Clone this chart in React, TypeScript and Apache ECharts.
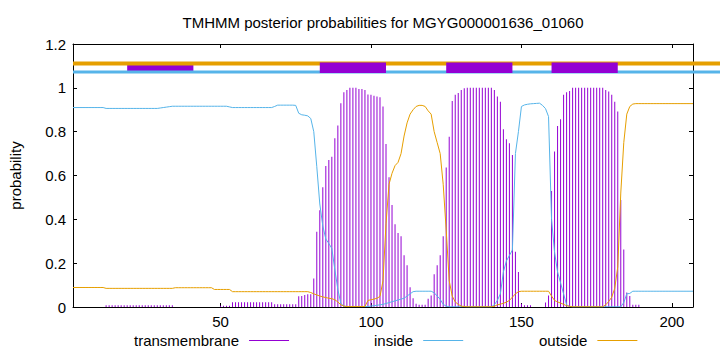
import React, { useEffect, useRef } from 'react';
import * as echarts from 'echarts';

const FONT = 'Liberation Sans';

// residue numbers 1..207
const residues: number[] = Array.from({ length: 207 }, (_, k) => k + 1);

const transmembrane = [
  0, 0, 0, 0, 0, 0, 0, 0, 0, 0,
  0, 0.008, 0.008, 0.008, 0.008, 0.008, 0.008, 0.008, 0.008, 0.008,
  0.008, 0.008, 0.008, 0.008, 0.008, 0.008, 0.008, 0.008, 0.008, 0.008,
  0.008, 0.008, 0.008, 0.008, 0, 0, 0, 0, 0, 0,
  0, 0, 0, 0, 0, 0, 0, 0, 0, 0.006,
  0.006, 0.006, 0.006, 0.022, 0.022, 0.022, 0.022, 0.022, 0.022, 0.022,
  0.022, 0.022, 0.022, 0.022, 0.022, 0.022, 0.022, 0.013, 0.013, 0.013,
  0.013, 0.013, 0.012, 0.012, 0.012, 0.049, 0.05, 0.055, 0.058, 0.058,
  0.13, 0.343, 0.442, 0.546, 0.643, 0.671, 0.686, 0.77, 0.828, 0.93,
  0.98, 0.99, 1, 1, 1, 0.995, 0.995, 0.99, 0.97, 0.968,
  0.964, 0.96, 0.957, 0.915, 0.744, 0.592, 0.465, 0.378, 0.338, 0.323,
  0.236, 0.19, 0.09, 0.04, 0.015, 0.01, 0.01, 0.01, 0.038, 0.053,
  0.15, 0.19, 0.236, 0.323, 0.637, 0.777, 0.94, 0.968, 0.976, 0.99,
  0.998, 1, 1, 1, 1, 1, 1, 1, 1, 1,
  0.99, 0.96, 0.936, 0.811, 0.765, 0.747, 0.694, 0.252, 0.16, 0.015,
  0.008, 0.008, 0.008, 0, 0, 0, 0, 0.02, 0.053, 0.529,
  0.709, 0.826, 0.857, 0.968, 0.98, 0.986, 1, 1, 1, 1,
  1, 1, 1, 1, 1, 1, 1, 0.99, 0.983, 0.968,
  0.937, 0.892, 0.488, 0.262, 0.066, 0.05, 0.01, 0.01, 0.01, 0,
  0, 0, 0, 0, 0, 0, 0, 0, 0, 0,
  0, 0, 0, 0, 0, 0, 0,
];

const inside = [
  0.91, 0.91, 0.91, 0.91, 0.91, 0.91, 0.91, 0.91, 0.91, 0.91,
  0.91, 0.906, 0.906, 0.906, 0.906, 0.906, 0.906, 0.906, 0.906, 0.906,
  0.906, 0.906, 0.906, 0.906, 0.906, 0.906, 0.906, 0.906, 0.906, 0.908,
  0.91, 0.912, 0.914, 0.916, 0.916, 0.916, 0.916, 0.916, 0.916, 0.916,
  0.916, 0.916, 0.916, 0.916, 0.916, 0.916, 0.916, 0.916, 0.916, 0.916,
  0.916, 0.916, 0.913, 0.91, 0.91, 0.91, 0.91, 0.91, 0.91, 0.91,
  0.91, 0.91, 0.91, 0.91, 0.91, 0.91, 0.91, 0.915, 0.921, 0.921,
  0.921, 0.921, 0.921, 0.921, 0.92, 0.884, 0.877, 0.875, 0.872, 0.86,
  0.8, 0.64, 0.47, 0.37, 0.31, 0.29, 0.267, 0.17, 0.08, 0.016,
  0.004, 0.002, 0.002, 0.002, 0.002, 0.002, 0.002, 0.002, 0.002, 0.004,
  0.006, 0.008, 0.01, 0.012, 0.016, 0.02, 0.024, 0.028, 0.032, 0.036,
  0.04, 0.05, 0.06, 0.07, 0.072, 0.072, 0.072, 0.072, 0.072, 0.072,
  0.065, 0.05, 0.035, 0.012, 0.004, 0.001, 0.001, 0.001, 0.001, 0.001,
  0.001, 0.001, 0.001, 0.001, 0.001, 0.001, 0.001, 0.001, 0.001, 0.001,
  0.01, 0.03, 0.06, 0.16, 0.21, 0.235, 0.26, 0.7, 0.8, 0.915,
  0.922, 0.925, 0.927, 0.928, 0.929, 0.93, 0.92, 0.905, 0.869, 0.4,
  0.25, 0.16, 0.11, 0.06, 0.01, 0.002, 0.001, 0.001, 0.001, 0.001,
  0.001, 0.001, 0.001, 0.001, 0.001, 0.001, 0.001, 0.001, 0.001, 0.001,
  0.001, 0.001, 0.001, 0.02, 0.06, 0.062, 0.072, 0.072, 0.072, 0.072,
  0.072, 0.072, 0.072, 0.072, 0.072, 0.072, 0.072, 0.072, 0.072, 0.072,
  0.072, 0.072, 0.072, 0.072, 0.072, 0.072, 0.072,
];

const outside = [
  0.089, 0.089, 0.089, 0.089, 0.089, 0.089, 0.089, 0.089, 0.089, 0.089,
  0.089, 0.085, 0.085, 0.085, 0.085, 0.085, 0.085, 0.085, 0.085, 0.085,
  0.085, 0.085, 0.085, 0.085, 0.085, 0.085, 0.085, 0.085, 0.085, 0.085,
  0.085, 0.085, 0.085, 0.085, 0.088, 0.088, 0.088, 0.088, 0.088, 0.088,
  0.088, 0.088, 0.088, 0.088, 0.088, 0.088, 0.088, 0.08, 0.08, 0.08,
  0.08, 0.08, 0.08, 0.07, 0.07, 0.07, 0.07, 0.07, 0.07, 0.07,
  0.07, 0.07, 0.07, 0.07, 0.07, 0.07, 0.07, 0.07, 0.07, 0.07,
  0.07, 0.07, 0.07, 0.07, 0.07, 0.07, 0.07, 0.07, 0.07, 0.066,
  0.06, 0.055, 0.05, 0.046, 0.043, 0.04, 0.038, 0.033, 0.023, 0.01,
  0.004, 0.002, 0.002, 0.002, 0.002, 0.002, 0.002, 0.002, 0.03, 0.033,
  0.036, 0.04, 0.048, 0.12, 0.38, 0.56, 0.61, 0.645, 0.66, 0.7,
  0.78, 0.84, 0.88, 0.9, 0.915, 0.92, 0.92, 0.915, 0.895, 0.88,
  0.8, 0.75, 0.7, 0.56, 0.35, 0.12, 0.05, 0.023, 0.012, 0.004,
  0.002, 0.001, 0.001, 0.001, 0.001, 0.001, 0.001, 0.001, 0.001, 0.001,
  0.003, 0.01, 0.013, 0.017, 0.022, 0.03, 0.045, 0.06, 0.07, 0.072,
  0.072, 0.072, 0.072, 0.072, 0.072, 0.072, 0.072, 0.072, 0.072, 0.05,
  0.03, 0.023, 0.018, 0.012, 0.006, 0.003, 0.001, 0.001, 0.001, 0.001,
  0.001, 0.001, 0.001, 0.001, 0.001, 0.001, 0.001, 0.01, 0.025, 0.045,
  0.085, 0.183, 0.52, 0.75, 0.88, 0.915, 0.926, 0.928, 0.928, 0.928,
  0.928, 0.928, 0.928, 0.928, 0.928, 0.928, 0.928, 0.928, 0.928, 0.928,
  0.928, 0.928, 0.928, 0.928, 0.928, 0.928, 0.928,
];

const xTicks = [50, 100, 150, 200];
const xRange = [1, 207];
const yRange = [0, 1.2];
const yStep = 0.2;

// predicted topology segments drawn above the curves (in drawing order)
const topTracks = [
  { kind: 'transmembrane', from: 19, to: 41 },
  { kind: 'outside', from: 1, to: 216 },
  { kind: 'inside', from: 1, to: 216 },
  { kind: 'transmembrane', from: 83, to: 105 },
  { kind: 'transmembrane', from: 125, to: 147 },
  { kind: 'transmembrane', from: 160, to: 182 },
];
const trackLevels: Record<string, number> = {
  outside: 1.111,
  inside: 1.072,
  transmembrane: 1.0915,
};

const COLORS: Record<string, string> = {
  transmembrane: '#9400d3',
  inside: '#56b4e9',
  outside: '#e69f00',
};
const TRACK_WIDTH: Record<string, number> = {
  transmembrane: 10.6,
  inside: 3,
  outside: 4,
};

export default function App() {
  const ref = useRef<HTMLDivElement>(null);

  useEffect(() => {
    const chart = echarts.init(ref.current!, null, { renderer: 'svg' });
    const txt = { fontFamily: FONT, fontSize: 15, color: '#000' };
    const axisLine = { show: true, onZero: false, lineStyle: { color: '#000', width: 1 } };
    const tick = { show: true, inside: true, length: 4, lineStyle: { color: '#000', width: 1 } };

    const legendBase = {
      orient: 'horizontal',
      top: 328,
      align: 'right',
      icon: 'rect',
      itemWidth: 40,
      itemHeight: 1,
      itemGap: 0,
      selectedMode: false,
      textStyle: { ...txt, padding: [0, 5, 0, 0] },
    };

    const option: any = {
      animation: false,
      backgroundColor: '#fff',
      textStyle: { fontFamily: FONT },
      grid: { left: 73, right: 27, top: 44, bottom: 45, containLabel: false },
      graphic: [
        {
          type: 'text',
          x: 383,
          y: 22,
          style: {
            text: 'TMHMM posterior probabilities for MGYG000001636_01060',
            fill: '#000',
            font: `15px "${FONT}"`,
            textAlign: 'center',
            textVerticalAlign: 'middle',
          },
        },
      ],
      legend: [
        { ...legendBase, left: 129, data: ['transmembrane'] },
        { ...legendBase, left: 369, data: ['inside'] },
        { ...legendBase, left: 534, data: ['outside'] },
      ],
      xAxis: [
        {
          type: 'value',
          min: xRange[0],
          max: xRange[1],
          position: 'bottom',
          axisLine,
          axisTick: { ...tick, customValues: xTicks },
          axisLabel: { ...txt, customValues: xTicks, margin: 7 },
          splitLine: { show: false },
        },
        {
          type: 'value',
          min: xRange[0],
          max: xRange[1],
          position: 'top',
          axisLine,
          axisTick: { ...tick, customValues: xTicks },
          axisLabel: { show: false },
          splitLine: { show: false },
        },
      ],
      yAxis: [
        {
          type: 'value',
          min: yRange[0],
          max: yRange[1],
          interval: yStep,
          position: 'left',
          axisLine,
          axisTick: tick,
          axisLabel: { ...txt, margin: 7 },
          splitLine: { show: false },
          name: 'probability',
          nameLocation: 'middle',
          nameGap: 50,
          nameTextStyle: txt,
        },
        {
          type: 'value',
          min: yRange[0],
          max: yRange[1],
          interval: yStep,
          position: 'right',
          axisLine,
          axisTick: tick,
          axisLabel: { show: false },
          splitLine: { show: false },
        },
      ],
      series: [
        {
          name: 'transmembrane',
          type: 'bar',
          xAxisIndex: 0,
          yAxisIndex: 0,
          barWidth: 1,
          itemStyle: { color: COLORS.transmembrane },
          data: residues.map((r, k) => [r, transmembrane[k]]),
          z: 2,
        },
        {
          name: 'inside',
          type: 'line',
          xAxisIndex: 0,
          yAxisIndex: 0,
          showSymbol: false,
          symbol: 'none',
          lineStyle: { color: COLORS.inside, width: 1 },
          itemStyle: { color: COLORS.inside },
          data: residues.map((r, k) => [r, inside[k]]),
          z: 3,
        },
        {
          name: 'outside',
          type: 'line',
          xAxisIndex: 0,
          yAxisIndex: 0,
          showSymbol: false,
          symbol: 'none',
          lineStyle: { color: COLORS.outside, width: 1 },
          itemStyle: { color: COLORS.outside },
          data: residues.map((r, k) => [r, outside[k]]),
          z: 3,
        },
        {
          name: 'tracks',
          type: 'custom',
          xAxisIndex: 0,
          yAxisIndex: 0,
          clip: false,
          silent: true,
          z: 4,
          encode: { x: [0, 1], y: 2 },
          data: topTracks.map((t) => [t.from, t.to, trackLevels[t.kind]]),
          renderItem: (params: any, api: any) => {
            const t = topTracks[params.dataIndex];
            const a = api.coord([api.value(0), api.value(2)]);
            const b = api.coord([api.value(1), api.value(2)]);
            return {
              type: 'line',
              shape: { x1: a[0], y1: a[1], x2: b[0], y2: b[1] },
              style: { stroke: COLORS[t.kind], lineWidth: TRACK_WIDTH[t.kind], lineCap: 'butt' },
            };
          },
        },
      ],
    };

    chart.setOption(option);
    return () => chart.dispose();
  }, []);

  return (
    <div
      ref={ref}
      style={{ position: 'absolute', left: 0, top: 0, width: 720, height: 352 }}
    />
  );
}
